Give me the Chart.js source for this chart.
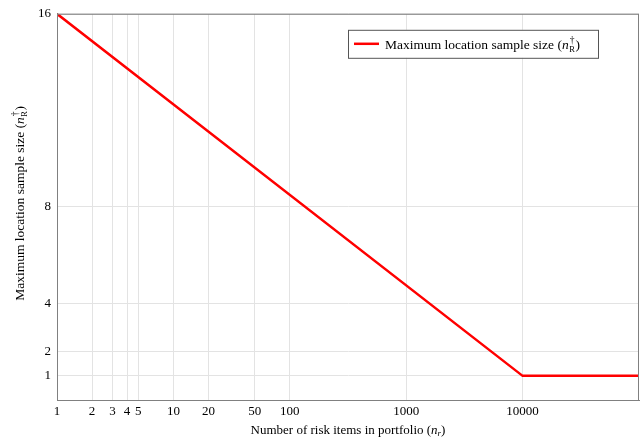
<!DOCTYPE html>
<html>
<head>
<meta charset="utf-8">
<script src="https://cdn.jsdelivr.net/npm/chart.js@4"></script>
<style>
  html, body { margin: 0; padding: 0; background: #fff; }
  #wrap { width: 643px; height: 439px; }
</style>
</head>
<body>
<div id="wrap"><canvas id="myChart" width="643" height="439"></canvas></div>
<script>
// data
let riskItems = [1, 10000, 100000]
let sampleSize = [16, 1, 1]
let xTickValues = [1, 2, 3, 4, 5, 10, 20, 50, 100, 1000, 10000]
let yTickValues = [1, 2, 4, 8, 16]

let serif = "'Liberation Serif', 'DejaVu Serif', serif"

// draws text pieces one after another (for n with sub/superscripts)
// a 'stack' piece sits over the next piece and does not move the pen
function drawParts(ctx, parts, x, y, align) {
	let w = 0
	parts.forEach(p => {
		ctx.font = p.font
		p.w = ctx.measureText(p.t).width
		if (!p.stack) w += p.w
	})
	let cx = align == 'center' ? x - w / 2 : x
	parts.forEach(p => {
		ctx.font = p.font
		ctx.fillText(p.t, cx + (p.dx || 0), y + (p.dy || 0))
		if (!p.stack) cx += p.w
	})
}

function fnt(size, style) {
	return (style || '') + ' ' + size + 'px ' + serif
}

function mathN(size) {
	return [
		{ t: 'n', font: fnt(size, 'italic') },
		{ t: '\u2020', font: fnt(size - 4), dy: -6, dx: 1, stack: true },
		{ t: 'R', font: fnt(size - 5), dy: 3, dx: 0.5 },
		{ t: ')', font: fnt(size), dx: 1 }
	]
}

let extras = {
	id: 'extras',
	afterDraw(chart) {
		let ctx = chart.ctx
		let a = chart.chartArea
		ctx.save()
		// frame round the plot
		ctx.strokeStyle = '#808080'
		ctx.lineWidth = 1
		ctx.strokeRect(a.left + 0.5, a.top + 0.5, a.right - a.left - 1, a.bottom - a.top)

		ctx.fillStyle = '#000'
		ctx.textBaseline = 'alphabetic'

		// x title
		drawParts(ctx, [
			{ t: 'Number of risk items in portfolio (', font: fnt(13) },
			{ t: 'n', font: fnt(13, 'italic') },
			{ t: 'r', font: fnt(9, 'italic'), dy: 2 },
			{ t: ')', font: fnt(13) }
		], (a.left + a.right) / 2, 434, 'center')

		// y title
		ctx.save()
		ctx.translate(24, (a.top + a.bottom) / 2 - 3)
		ctx.rotate(-Math.PI / 2)
		drawParts(ctx, [{ t: 'Maximum location sample size (', font: fnt(13.5) }].concat(mathN(13.5)), 0, 0, 'center')
		ctx.restore()

		// legend
		let lx = a.right - 291, ly = a.top + 16
		ctx.fillStyle = '#fff'
		ctx.fillRect(lx, ly, 250, 28)
		ctx.strokeStyle = '#555'
		ctx.strokeRect(lx + 0.5, ly + 0.5, 250, 28)
		ctx.strokeStyle = '#ff0000'
		ctx.lineWidth = 2.5
		ctx.beginPath()
		ctx.moveTo(lx + 6, ly + 14)
		ctx.lineTo(lx + 31, ly + 14)
		ctx.stroke()
		ctx.fillStyle = '#000'
		drawParts(ctx, [{ t: 'Maximum location sample size (', font: fnt(13.5) }].concat(mathN(13.5)), lx + 37, ly + 19, 'left')
		ctx.restore()
	}
}

let ctx1 = document.getElementById("myChart").getContext('2d')
var myChart = new Chart(ctx1, {
	type: 'line',
	data: {
		datasets: [{
			label: 'Maximum location sample size',
			data: riskItems.map((x, i) => ({ x: x, y: sampleSize[i] })),
			borderColor: '#ff0000',
			backgroundColor: '#ff0000',
			borderWidth: 2.5,
			pointRadius: 0,
			tension: 0
		}]
	},
	options: {
		responsive: false,
		animation: false,
		layout: { padding: { top: 13, right: 4, left: 0, bottom: 0 } },
		plugins: {
			legend: { display: false },
			tooltip: { enabled: false }
		},
		scales: {
			x: {
				type: 'logarithmic',
				min: 1,
				max: 100000,
				afterBuildTicks: s => { s.ticks = xTickValues.map(v => ({ value: v })) },
				afterFit: s => { s.height = 39 },
				ticks: {
					autoSkip: false,
					maxRotation: 0,
					padding: 4,
					color: '#000',
					font: { family: serif, size: 13 },
					callback: v => String(v)
				},
				grid: { color: '#e3e3e3', drawTicks: false },
				border: { color: '#808080' }
			},
			y: {
				type: 'linear',
				min: 0,
				max: 16,
				afterBuildTicks: s => { s.ticks = yTickValues.map(v => ({ value: v })) },
				afterFit: s => { s.width = 57 },
				ticks: {
					padding: 6,
					color: '#000',
					font: { family: serif, size: 13 },
					callback: v => String(v)
				},
				grid: { color: '#e3e3e3', drawTicks: false },
				border: { color: '#808080' }
			}
		}
	},
	plugins: [extras]
})
</script>
</body>
</html>
